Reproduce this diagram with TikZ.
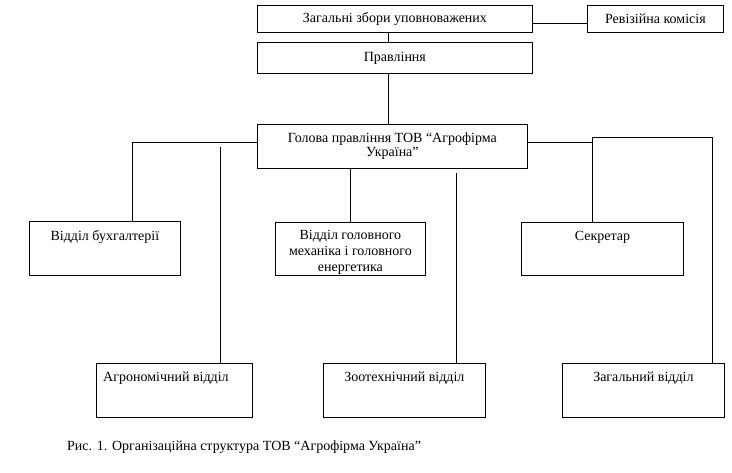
\documentclass[tikz,border=0pt]{standalone}
\usepackage{fontspec}
\setmainfont{Liberation Serif}
\usetikzlibrary{calc}

\tikzset{
  unit/.style={draw, line width=0.8pt, anchor=north west, inner sep=0pt,
    font=\fontsize{14}{16}\selectfont, align=center},
  lbl/.style={anchor=north, yshift=-9pt, inner sep=0pt,
    font=\fontsize{14}{16}\selectfont, align=center},
  link/.style={line width=0.8pt}
}

\begin{document}
\begin{tikzpicture}[x=1pt, y=-1pt]
  \useasboundingbox (0,0) rectangle (732,472);
  % top level
  \node[unit, minimum width=275pt, minimum height=27pt] (zb) at (257,5) {Загальні збори уповноважених};
  \node[unit, minimum width=136pt, minimum height=27pt] (rk) at (587,5) {Ревізійна комісія};
  \node[unit, minimum width=275pt, minimum height=31pt] (pr) at (257,42) {Правління};
  \node[unit, minimum width=270pt, minimum height=44pt] (gl) at (257,124) {Голова правління ТОВ “Агрофірма\\[-2pt] Україна”};
  % middle row
  \node[unit, minimum width=151pt, minimum height=54pt, label={[lbl]north:Відділ бухгалтерії}] (buh) at (29,221) {};
  \node[unit, minimum width=150pt, minimum height=53pt, label={[lbl, yshift=1pt]north:Відділ головного\\механіка і головного\\енергетика}] (mech) at (275,222) {};
  \node[unit, minimum width=162pt, minimum height=53pt, label={[lbl]north:Секретар}] (sekr) at (521,222) {};
  % bottom row
  \node[unit, minimum width=156pt, minimum height=54pt, label={[lbl, anchor=north west, xshift=7pt]north west:Агрономічний відділ}] (agro) at (96,363) {};
  \node[unit, minimum width=162pt, minimum height=54pt, label={[lbl]north:Зоотехнічний відділ}] (zoot) at (323,363) {};
  \node[unit, minimum width=162pt, minimum height=54pt, label={[lbl]north:Загальний відділ}] (zag) at (562,363) {};

  % connectors
  \draw[link] ([yshift=-4pt]zb.east) -- ([yshift=-4pt]rk.west);
  \draw[link] ([xshift=-6.5pt]zb.south) -- ([xshift=-6.5pt]pr.north);
  \draw[link] ([xshift=-6.5pt]pr.south) -- ([xshift=-6.5pt]pr.south |- gl.north);
  \draw[link] ([yshift=4pt]gl.west) -| ([xshift=27.5pt]buh.north);
  \draw[link] (mech.north) -- (mech.north |- gl.south);
  \coordinate (agtop) at (220,147);
  \coordinate (zttop) at (456,173);
  \draw[link] (agtop) -- (agtop |- agro.north);
  \draw[link] (zttop) -- (zttop |- zoot.north);
  \coordinate (sk) at (592,137);
  \coordinate (zr) at (712,137);
  \draw[link] ([yshift=4pt]gl.east) -| (sk) -- (zr) -- (zr |- zag.north);
  \draw[link] (sk) -- (sk |- sekr.north);

  % caption
  \node[anchor=west, inner sep=0pt, font=\fontsize{14}{16}\selectfont] (cap) at (67,447) {Рис. 1. Організаційна структура ТОВ “Агрофірма Україна”};
\end{tikzpicture}
\end{document}
